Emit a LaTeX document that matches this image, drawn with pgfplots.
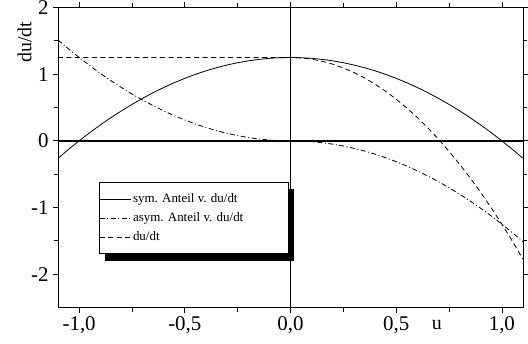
\documentclass[border=0pt]{standalone}
\usepackage{pgfplots}
\pgfplotsset{compat=1.18}
\usepackage{pgfplotstable}
\usepackage{fontspec}
\setmainfont{Liberation Serif}

% u, symmetric part, asymmetric part, total du/dt
\pgfplotstableread{
u      sym      asym     dudt
-1.10 -0.2625  1.5125  1.25
-1.05 -0.1281  1.3781  1.25
-1.00  0.0000  1.2500  1.25
-0.95  0.1219  1.1281  1.25
-0.90  0.2375  1.0125  1.25
-0.85  0.3469  0.9031  1.25
-0.80  0.4500  0.8000  1.25
-0.75  0.5469  0.7031  1.25
-0.70  0.6375  0.6125  1.25
-0.65  0.7219  0.5281  1.25
-0.60  0.8000  0.4500  1.25
-0.55  0.8719  0.3781  1.25
-0.50  0.9375  0.3125  1.25
-0.45  0.9969  0.2531  1.25
-0.40  1.0500  0.2000  1.25
-0.35  1.0969  0.1531  1.25
-0.30  1.1375  0.1125  1.25
-0.25  1.1719  0.0781  1.25
-0.20  1.2000  0.0500  1.25
-0.15  1.2219  0.0281  1.25
-0.10  1.2375  0.0125  1.25
-0.05  1.2469  0.0031  1.25
 0.00  1.2500  0.0000  1.25
 0.05  1.2469 -0.0031  1.2438
 0.10  1.2375 -0.0125  1.2250
 0.15  1.2219 -0.0281  1.1938
 0.20  1.2000 -0.0500  1.1500
 0.25  1.1719 -0.0781  1.0938
 0.30  1.1375 -0.1125  1.0250
 0.35  1.0969 -0.1531  0.9438
 0.40  1.0500 -0.2000  0.8500
 0.45  0.9969 -0.2531  0.7438
 0.50  0.9375 -0.3125  0.6250
 0.55  0.8719 -0.3781  0.4938
 0.60  0.8000 -0.4500  0.3500
 0.65  0.7219 -0.5281  0.1938
 0.70  0.6375 -0.6125  0.0250
 0.75  0.5469 -0.7031 -0.1563
 0.80  0.4500 -0.8000 -0.3500
 0.85  0.3469 -0.9031 -0.5563
 0.90  0.2375 -1.0125 -0.7750
 0.95  0.1219 -1.1281 -1.0063
 1.00  0.0000 -1.2500 -1.2500
 1.05 -0.1281 -1.3781 -1.5063
 1.10 -0.2625 -1.5125 -1.7750
}\datatable

\begin{document}
\begin{tikzpicture}
\begin{axis}[
  scale only axis,
  width=465bp, height=300bp,
  xmin=-1.1, xmax=1.1,
  ymin=-2.5, ymax=2,
  xtick={-1,-0.5,0,0.5,1},
  ytick={-2,-1,0,1,2},
  minor x tick num=1,
  minor y tick num=1,
  tick align=outside,
  major tick length=5bp,
  minor tick length=4bp,
  every tick/.style={black, line width=0.7bp},
  axis line style={line width=0.9bp},
  tick label style={font=\fontsize{21}{24}\selectfont},
  /pgf/number format/assume math mode=true,
  x tick label style={/pgf/number format/use comma, /pgf/number format/fixed,
    /pgf/number format/fixed zerofill, /pgf/number format/precision=1},
  xticklabel style={yshift=-1bp},
  yticklabel style={xshift=-1bp},
  xlabel={u},
  ylabel={du/dt},
  every axis x label/.style={at={(axis description cs:0.815,0)}, anchor=north,
    yshift=-9bp, font=\fontsize{20}{24}\selectfont},
  every axis y label/.style={at={(axis description cs:-0.072,0.885)}, rotate=90,
    anchor=center, font=\fontsize{20}{24}\selectfont},
  legend style={
    name=leg,
    at={(rel axis cs:0.088,0.418)}, anchor=north west,
    draw=black, line width=0.6bp, fill=white,
    font=\fontsize{13}{15}\selectfont,
    inner xsep=0bp, inner ysep=9.5bp, row sep=4.5bp,
  },
  legend cell align=left,
  legend image code/.code={\draw[#1] (0bp,0bp) -- (31bp,0bp);},
]
% reference lines through the origin
\addplot[black, line width=1.4bp, forget plot] coordinates {(-1.1,0) (1.1,0)};
\addplot[black, line width=1bp, forget plot] coordinates {(0,-2.5) (0,2)};

\addplot[black, line width=0.8bp] table[x=u, y=sym] {\datatable};
\addlegendentry{\makebox[153bp][l]{sym. Anteil v. du/dt}}
\addplot[black, line width=0.8bp, dash pattern=on 5bp off 2.5bp on 1bp off 2.5bp] table[x=u, y=asym] {\datatable};
\addlegendentry{\makebox[153bp][l]{asym. Anteil v. du/dt}}
\addplot[black, line width=0.8bp, dash pattern=on 5bp off 3.5bp] table[x=u, y=dudt] {\datatable};
\addlegendentry{\makebox[153bp][l]{du/dt}}
\end{axis}
% shadow strips along the right and bottom of the legend box
\fill[black] ([yshift=-6.5bp]leg.north east) rectangle ([xshift=6bp,yshift=-6.5bp]leg.south east);
\fill[black] ([xshift=6bp]leg.south west) rectangle ([xshift=6bp,yshift=-6.5bp]leg.south east);
\pgfresetboundingbox
\path[use as bounding box] (-58bp,-36.5bp) rectangle (470bp,307.5bp);
\end{tikzpicture}
\end{document}
